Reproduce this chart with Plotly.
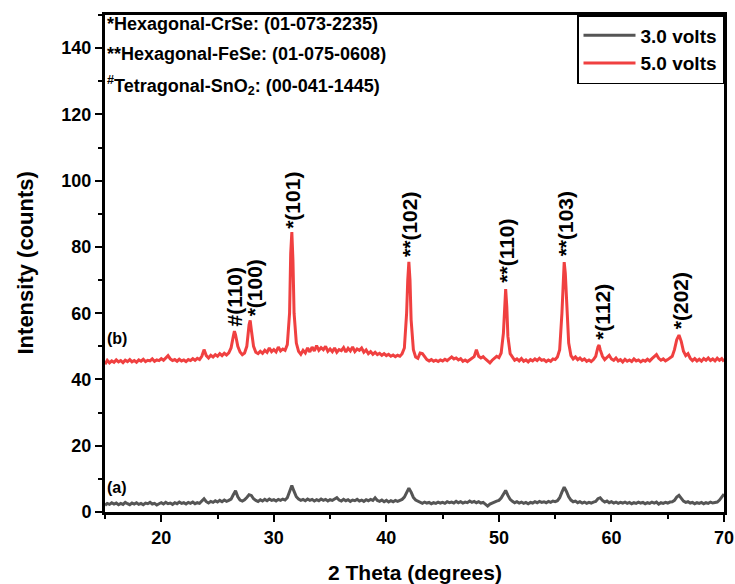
import plotly.graph_objects as go

# XRD pattern, 3.0 volts (gray) : (2theta, counts)
gray_xrd = [
    (15.0, 2.0), (15.2, 2.6), (15.4, 2.3), (15.6, 2.8), (15.8, 2.4), (16.0, 2.7), (16.2, 2.2), (16.4, 2.6), (16.6, 2.3), (16.8, 2.9),
    (17.0, 2.5), (17.2, 2.2), (17.4, 2.7), (17.6, 2.4), (17.8, 2.8), (18.0, 2.3), (18.2, 2.6), (18.4, 2.2), (18.6, 2.7), (18.8, 2.5),
    (19.0, 2.9), (19.2, 2.4), (19.4, 2.6), (19.6, 2.1), (19.8, 2.5), (20.0, 2.8), (20.2, 2.4), (20.4, 2.9), (20.6, 2.5), (20.8, 2.7),
    (21.0, 2.3), (21.2, 2.8), (21.4, 2.5), (21.6, 3.0), (21.8, 2.6), (22.0, 2.8), (22.2, 2.4), (22.4, 2.9), (22.6, 2.6), (22.8, 3.0),
    (23.0, 2.5), (23.2, 2.8), (23.4, 2.6), (23.6, 3.2), (23.8, 4.0), (24.0, 3.1), (24.2, 2.7), (24.4, 3.2), (24.6, 2.9), (24.8, 3.4),
    (25.0, 3.0), (25.2, 3.5), (25.4, 3.1), (25.6, 3.6), (25.8, 3.2), (26.0, 3.5), (26.2, 3.9), (26.4, 5.2), (26.6, 6.4), (26.8, 4.6),
    (27.0, 3.6), (27.2, 3.3), (27.4, 3.7), (27.6, 4.4), (27.8, 5.2), (28.0, 5.0), (28.2, 4.0), (28.4, 3.5), (28.6, 3.2), (28.8, 3.7),
    (29.0, 3.3), (29.2, 3.8), (29.4, 3.4), (29.6, 3.9), (29.8, 3.5), (30.0, 3.7), (30.2, 3.3), (30.4, 3.8), (30.6, 3.5), (30.8, 3.9),
    (31.0, 3.6), (31.2, 4.3), (31.4, 6.0), (31.6, 8.0), (31.8, 6.2), (32.0, 4.6), (32.2, 3.9), (32.4, 3.5), (32.6, 3.8), (32.8, 3.4),
    (33.0, 3.9), (33.2, 3.5), (33.4, 3.8), (33.6, 3.3), (33.8, 3.7), (34.0, 3.4), (34.2, 3.9), (34.4, 3.5), (34.6, 3.8), (34.8, 3.3),
    (35.0, 3.7), (35.2, 3.5), (35.4, 3.9), (35.6, 4.3), (35.8, 3.6), (36.0, 3.3), (36.2, 3.8), (36.4, 3.4), (36.6, 3.7), (36.8, 3.2),
    (37.0, 3.6), (37.2, 3.4), (37.4, 3.8), (37.6, 3.3), (37.8, 3.6), (38.0, 3.2), (38.2, 3.7), (38.4, 3.4), (38.6, 3.8), (38.8, 3.5),
    (39.0, 4.3), (39.2, 3.5), (39.4, 3.2), (39.6, 3.6), (39.8, 3.1), (40.0, 3.5), (40.2, 3.0), (40.4, 3.4), (40.6, 3.1), (40.8, 3.5),
    (41.0, 3.2), (41.2, 3.6), (41.4, 3.8), (41.6, 4.5), (41.8, 6.0), (42.0, 7.2), (42.2, 6.0), (42.4, 4.4), (42.6, 3.6), (42.8, 3.2),
    (43.0, 3.0), (43.2, 2.6), (43.4, 3.0), (43.6, 2.7), (43.8, 2.9), (44.0, 2.5), (44.2, 2.8), (44.4, 2.6), (44.6, 3.0), (44.8, 2.7),
    (45.0, 2.9), (45.2, 2.6), (45.4, 3.1), (45.6, 2.8), (45.8, 3.0), (46.0, 2.7), (46.2, 3.2), (46.4, 2.8), (46.6, 3.1), (46.8, 2.7),
    (47.0, 3.0), (47.2, 2.8), (47.4, 3.3), (47.6, 2.9), (47.8, 3.2), (48.0, 2.8), (48.2, 3.1), (48.4, 2.7), (48.6, 2.9), (48.8, 2.4),
    (49.0, 1.8), (49.2, 2.4), (49.4, 2.8), (49.6, 3.0), (49.8, 3.3), (50.0, 3.5), (50.2, 4.2), (50.4, 5.6), (50.6, 6.5), (50.8, 5.0),
    (51.0, 3.8), (51.2, 3.2), (51.4, 2.8), (51.6, 3.1), (51.8, 2.7), (52.0, 3.0), (52.2, 2.6), (52.4, 2.9), (52.6, 2.5), (52.8, 2.9),
    (53.0, 2.7), (53.2, 3.1), (53.4, 2.8), (53.6, 3.2), (53.8, 2.9), (54.0, 3.1), (54.2, 2.8), (54.4, 3.2), (54.6, 2.9), (54.8, 3.3),
    (55.0, 3.1), (55.2, 3.4), (55.4, 4.3), (55.6, 6.0), (55.8, 7.5), (56.0, 6.2), (56.2, 4.6), (56.4, 3.6), (56.6, 3.1), (56.8, 3.3),
    (57.0, 2.8), (57.2, 3.1), (57.4, 2.7), (57.6, 3.0), (57.8, 2.6), (58.0, 2.9), (58.2, 2.7), (58.4, 3.0), (58.6, 3.2), (58.8, 4.0),
    (59.0, 4.3), (59.2, 3.5), (59.4, 3.0), (59.6, 3.3), (59.8, 2.8), (60.0, 3.1), (60.2, 2.7), (60.4, 3.0), (60.6, 2.6), (60.8, 2.9),
    (61.0, 2.7), (61.2, 3.0), (61.4, 2.6), (61.6, 2.9), (61.8, 2.5), (62.0, 2.8), (62.2, 2.6), (62.4, 3.0), (62.6, 2.7), (62.8, 2.9),
    (63.0, 2.5), (63.2, 2.8), (63.4, 2.6), (63.6, 3.0), (63.8, 2.7), (64.0, 3.0), (64.2, 2.4), (64.4, 2.8), (64.6, 2.6), (64.8, 2.9),
    (65.0, 2.7), (65.2, 3.0), (65.4, 3.1), (65.6, 3.5), (65.8, 4.5), (66.0, 5.0), (66.2, 4.2), (66.4, 3.3), (66.6, 2.9), (66.8, 3.1),
    (67.0, 2.7), (67.2, 2.9), (67.4, 2.5), (67.6, 2.8), (67.8, 2.6), (68.0, 2.9), (68.2, 2.5), (68.4, 2.8), (68.6, 2.6), (68.8, 3.0),
    (69.0, 2.7), (69.2, 2.9), (69.4, 3.0), (69.6, 3.6), (69.8, 4.6), (70.0, 5.4),
]

# XRD pattern, 5.0 volts (red) : (2theta, counts)
red_xrd = [
    (15.0, 44.6), (15.2, 45.8), (15.4, 45.0), (15.6, 45.6), (15.8, 45.2), (16.0, 45.9), (16.2, 45.3), (16.4, 45.7), (16.6, 45.1), (16.8, 45.8),
    (17.0, 45.4), (17.2, 46.0), (17.4, 45.3), (17.6, 45.7), (17.8, 45.2), (18.0, 45.9), (18.2, 45.5), (18.4, 46.1), (18.6, 45.4), (18.8, 45.8),
    (19.0, 45.6), (19.2, 46.2), (19.4, 45.5), (19.6, 45.9), (19.8, 45.7), (20.0, 46.3), (20.2, 45.8), (20.4, 46.6), (20.6, 47.2), (20.8, 46.2),
    (21.0, 45.7), (21.2, 46.0), (21.4, 45.5), (21.6, 46.1), (21.8, 45.6), (22.0, 45.9), (22.2, 45.4), (22.4, 46.0), (22.6, 45.7), (22.8, 46.3),
    (23.0, 45.8), (23.2, 46.4), (23.4, 46.0), (23.6, 47.0), (23.8, 49.0), (24.0, 47.2), (24.2, 46.5), (24.4, 47.3), (24.6, 46.8), (24.8, 47.5),
    (25.0, 47.0), (25.2, 47.8), (25.4, 47.2), (25.6, 47.9), (25.8, 47.4), (26.0, 48.0), (26.2, 49.5), (26.4, 53.0), (26.5, 54.6), (26.6, 53.5),
    (26.8, 50.0), (27.0, 48.3), (27.2, 47.5), (27.4, 48.0), (27.6, 50.0), (27.8, 56.5), (27.9, 57.8), (28.0, 55.0), (28.2, 50.0), (28.4, 48.2),
    (28.6, 47.8), (28.8, 48.5), (29.0, 47.9), (29.2, 48.8), (29.4, 48.2), (29.6, 49.5), (29.8, 48.4), (30.0, 49.0), (30.2, 48.3), (30.4, 49.8),
    (30.6, 48.6), (30.8, 49.2), (31.0, 48.8), (31.2, 50.5), (31.4, 60.0), (31.5, 78.0), (31.6, 84.5), (31.7, 76.0), (31.8, 60.0), (32.0, 51.0),
    (32.2, 48.5), (32.4, 47.6), (32.6, 48.8), (32.8, 48.0), (33.0, 49.5), (33.2, 48.3), (33.4, 49.8), (33.6, 48.6), (33.8, 50.2), (34.0, 48.8),
    (34.2, 49.6), (34.4, 49.0), (34.6, 50.0), (34.8, 48.5), (35.0, 49.2), (35.2, 48.4), (35.4, 49.5), (35.6, 48.2), (35.8, 49.0), (36.0, 48.7),
    (36.2, 49.6), (36.4, 48.3), (36.6, 49.4), (36.8, 48.6), (37.0, 49.8), (37.2, 48.4), (37.4, 49.2), (37.6, 48.8), (37.8, 49.5), (38.0, 48.2),
    (38.2, 48.9), (38.4, 47.8), (38.6, 48.4), (38.8, 47.6), (39.0, 48.2), (39.2, 47.5), (39.4, 47.9), (39.6, 47.3), (39.8, 47.8), (40.0, 47.2),
    (40.2, 47.6), (40.4, 47.0), (40.6, 47.4), (40.8, 46.9), (41.0, 47.3), (41.2, 47.0), (41.4, 47.8), (41.6, 49.5), (41.8, 60.0), (41.9, 70.0),
    (42.0, 75.5), (42.1, 70.0), (42.2, 58.0), (42.4, 49.0), (42.6, 46.8), (42.8, 46.4), (43.0, 48.0), (43.2, 47.8), (43.4, 46.9), (43.6, 46.0),
    (43.8, 45.6), (44.0, 46.0), (44.2, 45.5), (44.4, 45.8), (44.6, 45.4), (44.8, 45.9), (45.0, 45.6), (45.2, 46.1), (45.4, 45.7), (45.6, 46.4),
    (45.8, 46.8), (46.0, 46.2), (46.2, 46.5), (46.4, 45.9), (46.6, 46.3), (46.8, 45.5), (47.0, 45.9), (47.2, 45.4), (47.4, 46.0), (47.6, 46.4),
    (47.8, 46.9), (48.0, 49.0), (48.2, 47.0), (48.4, 46.5), (48.6, 46.9), (48.8, 46.2), (49.0, 45.5), (49.2, 45.0), (49.4, 45.8), (49.6, 46.3),
    (49.8, 47.0), (50.0, 46.6), (50.2, 48.0), (50.4, 54.0), (50.5, 63.0), (50.6, 67.3), (50.7, 62.0), (50.8, 53.0), (51.0, 47.8), (51.2, 46.8),
    (51.4, 45.8), (51.6, 46.2), (51.8, 45.6), (52.0, 46.3), (52.2, 45.5), (52.4, 45.9), (52.6, 45.3), (52.8, 46.0), (53.0, 45.6), (53.2, 46.2),
    (53.4, 45.7), (53.6, 46.4), (53.8, 45.8), (54.0, 46.0), (54.2, 45.4), (54.4, 45.9), (54.6, 45.5), (54.8, 46.2), (55.0, 46.0), (55.2, 46.8),
    (55.4, 49.0), (55.6, 60.0), (55.7, 70.0), (55.8, 75.4), (55.9, 72.0), (56.0, 63.0), (56.2, 51.0), (56.4, 47.2), (56.6, 46.2), (56.8, 46.8),
    (57.0, 46.0), (57.2, 46.5), (57.4, 45.8), (57.6, 46.2), (57.8, 45.5), (58.0, 45.9), (58.2, 45.4), (58.4, 46.0), (58.6, 47.0), (58.8, 49.8),
    (58.9, 50.4), (59.0, 49.0), (59.2, 47.0), (59.4, 46.0), (59.6, 46.8), (59.8, 47.3), (60.0, 46.2), (60.2, 45.8), (60.4, 46.5), (60.6, 45.6),
    (60.8, 46.0), (61.0, 45.3), (61.2, 46.1), (61.4, 45.5), (61.6, 45.9), (61.8, 45.4), (62.0, 46.2), (62.2, 45.6), (62.4, 45.9), (62.6, 45.3),
    (62.8, 45.8), (63.0, 45.5), (63.2, 46.1), (63.4, 45.6), (63.6, 46.3), (63.8, 46.8), (64.0, 47.5), (64.2, 46.4), (64.4, 45.8), (64.6, 46.2),
    (64.8, 45.6), (65.0, 46.0), (65.2, 46.4), (65.4, 47.0), (65.6, 49.0), (65.8, 52.0), (66.0, 53.4), (66.2, 51.5), (66.4, 48.5), (66.6, 47.2),
    (66.8, 47.8), (67.0, 46.4), (67.2, 45.7), (67.4, 46.3), (67.6, 45.6), (67.8, 46.1), (68.0, 45.5), (68.2, 46.3), (68.4, 45.8), (68.6, 46.5),
    (68.8, 45.7), (69.0, 46.2), (69.2, 45.6), (69.4, 46.4), (69.6, 45.8), (69.8, 46.3), (70.0, 45.4),
]

series_names = ["3.0 volts", "5.0 volts"]
series_colors = ["#555555", "#f04040"]

# Peak labels: text, 2theta, counts at label base
peak_labels = ["#(110)", "*(100)", "*(101)", "**(102)", "**(110)", "**(103)", "*(112)", "*(202)"]
peak_theta = [26.5, 28.3, 31.7, 42.0, 50.6, 55.9, 59.2, 66.2]
peak_base = [55.5, 58.5, 85.0, 76.5, 68.5, 76.5, 51.5, 54.5]

phase_lines = [
    "*Hexagonal-CrSe: (01-073-2235)",
    "**Hexagonal-FeSe: (01-075-0608)",
    "<sup>#</sup>Tetragonal-SnO<sub>2</sub>: (00-041-1445)",
]
phase_y = [147.3, 138.3, 128.8]

FONT = "Liberation Sans, Arial, sans-serif"

fig = go.Figure()
for pts, name, col in zip([gray_xrd, red_xrd], series_names, series_colors):
    fig.add_trace(go.Scatter(
        x=[p[0] for p in pts], y=[p[1] for p in pts], mode="lines", name=name,
        line=dict(color=col, width=3),
    ))

for txt, x, y in zip(peak_labels, peak_theta, peak_base):
    fig.add_annotation(x=x, y=y, text=txt, textangle=-90, showarrow=False,
                       xanchor="center", yanchor="bottom",
                       font=dict(family=FONT, size=21, color="black", weight="bold"))

for txt, y in zip(phase_lines, phase_y):
    fig.add_annotation(xref="paper", x=0, y=y, text=txt, showarrow=False,
                       xanchor="left", yanchor="middle", xshift=0,
                       font=dict(family=FONT, size=18, color="black", weight="bold"))

fig.add_annotation(xref="paper", x=0, y=52.5, text="(b)", showarrow=False,
                   xanchor="left", yanchor="middle", xshift=0,
                   font=dict(family=FONT, size=16, color="black", weight="bold"))
fig.add_annotation(xref="paper", x=0, y=7.5, text="(a)", showarrow=False,
                   xanchor="left", yanchor="middle", xshift=0,
                   font=dict(family=FONT, size=16, color="black", weight="bold"))

fig.add_annotation(xref="paper", yref="paper", x=0, y=0.5, xshift=-80, text="Intensity (counts)",
                   textangle=-90, showarrow=False, xanchor="center", yanchor="middle",
                   font=dict(family=FONT, size=22, color="black", weight="bold"))
fig.add_annotation(xref="paper", yref="paper", x=0.5, y=0, yshift=-60, text="2 Theta (degrees)",
                   showarrow=False, xanchor="center", yanchor="middle",
                   font=dict(family=FONT, size=21, color="black", weight="bold"))

axis_common = dict(
    showline=True, linewidth=3, linecolor="black", mirror=True,
    ticks="outside", ticklen=7, tickwidth=2, tickcolor="black",
    showgrid=False, zeroline=False, automargin=False,
    tickfont=dict(family=FONT, size=18, color="black", weight="bold"),
)

fig.update_xaxes(range=[15, 70], dtick=10, tick0=0,
                 minor=dict(ticks="outside", ticklen=4, tickwidth=2, dtick=5, tick0=0, tickcolor="black"),
                 **axis_common)
fig.update_yaxes(range=[0, 150], dtick=20, tick0=0,
                 minor=dict(ticks="outside", ticklen=4, tickwidth=2, dtick=10, tick0=0, tickcolor="black"),
                 **axis_common)

fig.update_layout(
    width=735, height=584,
    margin=dict(l=105, r=11, t=15, b=72, autoexpand=False),
    paper_bgcolor="white", plot_bgcolor="white",
    showlegend=True,
    legend=dict(x=1, y=1, xanchor="right", yanchor="top",
                bgcolor="white", bordercolor="black", borderwidth=1.5,
                font=dict(family=FONT, size=19, color="black", weight="bold"),
                itemwidth=52, tracegroupgap=0),
)

fig.write_html("out.html", config={"displayModeBar": False},
               post_script="document.body.style.margin='0px';")
